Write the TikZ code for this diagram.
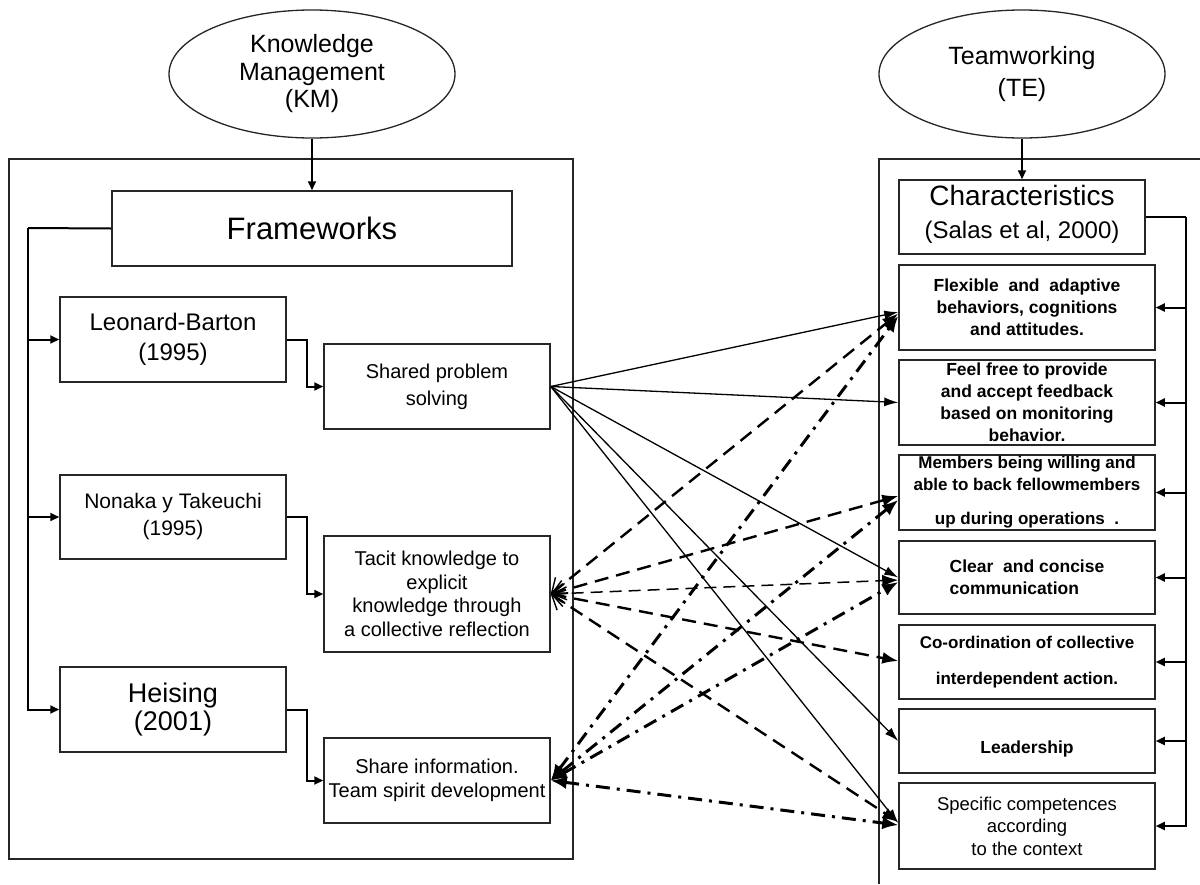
\documentclass[tikz,border=0pt]{standalone}
\usepackage{fontspec}
\setmainfont{Liberation Sans}
\usetikzlibrary{arrows.meta,shapes.geometric}
\begin{document}
\begin{tikzpicture}[x=1pt,y=-1pt,
  box/.style={draw=black!85,line width=1.5pt,rectangle,inner sep=0pt,align=center},
  lbox/.style={box,minimum width=226pt,minimum height=85pt},
  rbox/.style={box,minimum width=256pt,font=\bfseries\fontsize{17.5}{22}\selectfont},
  ell/.style={draw=black!85,line width=1.3pt,ellipse,inner sep=0pt,align=center,minimum width=286pt,minimum height=128pt},
  elb/.style={line width=2pt,-{Triangle[length=9pt,width=8pt]}},
  bus/.style={line width=2pt},
  sline/.style={line width=1.3pt,-{Latex[length=14pt,width=9pt]}},
  dline/.style={line width=2.4pt,dash pattern=on 14pt off 8pt,{Straight Barb[length=13pt,width=20pt,line width=1.4pt]}-{Latex[length=16pt,width=12pt]}},
  tdline/.style={line width=1.5pt,dash pattern=on 12pt off 7pt,{Straight Barb[length=13pt,width=20pt,line width=1.4pt]}-{Latex[length=16pt,width=12pt]}},
  ddline/.style={line width=3pt,dash pattern=on 14pt off 7pt on 3pt off 7pt,{Latex[length=16pt,width=13pt]}-{Latex[length=16pt,width=13pt]}}
]
\useasboundingbox (0,0) rectangle (1200,884);
% containers
\draw[line width=1.5pt,draw=black!85] (9,159) rectangle (573,859);
\draw[line width=1.5pt,draw=black!85] (1200,159) -- (879,159) -- (879,884);
% ellipses
\node[ell,font=\fontsize{25}{27.5}\selectfont] (km) at (312,74) {Knowledge\\Management\\(KM)};
\node[ell,font=\fontsize{25}{32}\selectfont] (te) at (1022,74) {Teamworking\\(TE)};
% left boxes
\node[box,minimum width=400pt,minimum height=75pt,font=\fontsize{31}{34}\selectfont] (frame) at (312,228.5) {Frameworks};
\node[lbox,font=\fontsize{24}{30}\selectfont] (leo) at (173,339.5) {Leonard-Barton\\(1995)};
\node[lbox,font=\fontsize{20}{27}\selectfont] (shared) at (437,386.5) {Shared problem\\solving};
\node[lbox,minimum height=84pt,font=\fontsize{21}{27}\selectfont] (nonaka) at (173,517) {Nonaka y Takeuchi\\(1995)};
\node[lbox,minimum height=116pt,font=\fontsize{20}{23.5}\selectfont] (tacit) at (437,594) {Tacit knowledge to\\explicit\\knowledge through\\a collective reflection};
\node[lbox,font=\fontsize{27}{28}\selectfont] (heising) at (173,709.5) {Heising\\(2001)};
\node[lbox,font=\fontsize{20}{24}\selectfont] (share) at (437,780.5) {Share information.\\Team spirit development};
% right boxes
\node[box,minimum width=246pt,minimum height=74pt,font=\fontsize{28}{33}\selectfont] (charac) at (1022,217) {\raisebox{-4pt}[0pt][0pt]{\parbox{240pt}{\centering Characteristics\\{\fontsize{24}{28}\selectfont (Salas et al, 2000)}}}};
\node[rbox,minimum height=85pt] (flex) at (1027,307.5) {Flexible\ \ and\ \ adaptive\\behaviors, cognitions\\and attitudes.};
\node[rbox,minimum height=85pt] (feel) at (1027,402.5) {Feel free to provide\\and accept feedback\\based on monitoring\\behavior.};
\node[rbox,minimum height=75pt,font=\bfseries\fontsize{17}{22}\selectfont] (memb) at (1027,492.5) {Members being willing and\\able to back fellowmembers\\[12pt]up during operations\ \ .};
\node[rbox,minimum height=73pt,align=left] (clear) at (1027,577.5) {Clear\ \ and concise\\communication};
\node[rbox,minimum height=74pt,font=\bfseries\fontsize{17}{21}\selectfont] (coord) at (1027,662) {Co-ordination of collective\\[15pt]interdependent action.};
\node[rbox,minimum height=64pt] (lead) at (1027,741) {\raisebox{-12pt}[0pt][0pt]{Leadership}};
\node[rbox,minimum height=86pt,font=\fontsize{18.5}{22.5}\selectfont] (spec) at (1027,826) {Specific competences\\according\\to the context};
% left bus
\coordinate (lb) at (28,228);
\draw[bus] (frame.west) -- (lb);
\draw[elb] (lb) |- (heising.west);
\draw[elb] (lb |- leo.west) -- (leo.west);
\draw[elb] (lb |- nonaka.west) -- (nonaka.west);
\draw[elb] (leo.east) -- ++(20,0) |- (shared.west);
\draw[elb] (nonaka.east) -- ++(20,0) |- (tacit.west);
\draw[elb] (heising.east) -- ++(20,0) |- (share.west);
% top arrows
\draw[elb] (km.south) -- (frame.north);
\draw[elb] (te.south) -- (charac.north);
% right bus
\coordinate (rb) at (1186,217);
\draw[bus] (charac.east) -- (rb);
\draw[elb] (rb) |- (spec.east);
\draw[elb] (rb |- flex.east) -- (flex.east);
\draw[elb] (rb |- feel.east) -- (feel.east);
\draw[elb] (rb |- memb.east) -- (memb.east);
\draw[elb] (rb |- clear.east) -- (clear.east);
\draw[elb] (rb |- coord.east) -- (coord.east);
\draw[elb] (rb |- lead.east) -- (lead.east);
% solid connectors
\draw[sline] (shared.east) -- ([yshift=-4.5pt]flex.west);
\draw[sline] (shared.east) -- (feel.west);
\draw[sline] (shared.east) -- (clear.west);
\draw[sline] (shared.east) -- (lead.west);
\draw[sline] (shared.east) -- ([yshift=3pt]spec.west);
% dashed connectors
\draw[dline] (tacit.east) -- ([yshift=-6pt]flex.west);
\draw[dline] (tacit.east) -- ([yshift=-3.5pt]memb.west);
\draw[tdline] (tacit.east) -- ([yshift=-2.5pt]clear.west);
\draw[dline] (tacit.east) -- ([yshift=1pt]coord.west);
\draw[dline] (tacit.east) -- ([yshift=4pt]spec.west);
% dash-dot connectors
\draw[ddline] (share.east) -- ([yshift=-8.5pt]flex.west);
\draw[ddline] (share.east) -- ([yshift=-7.5pt]memb.west);
\draw[ddline] (share.east) -- ([yshift=-4.5pt]clear.west);
\draw[ddline] (share.east) -- ([yshift=1pt]spec.west);
\end{tikzpicture}
\end{document}
